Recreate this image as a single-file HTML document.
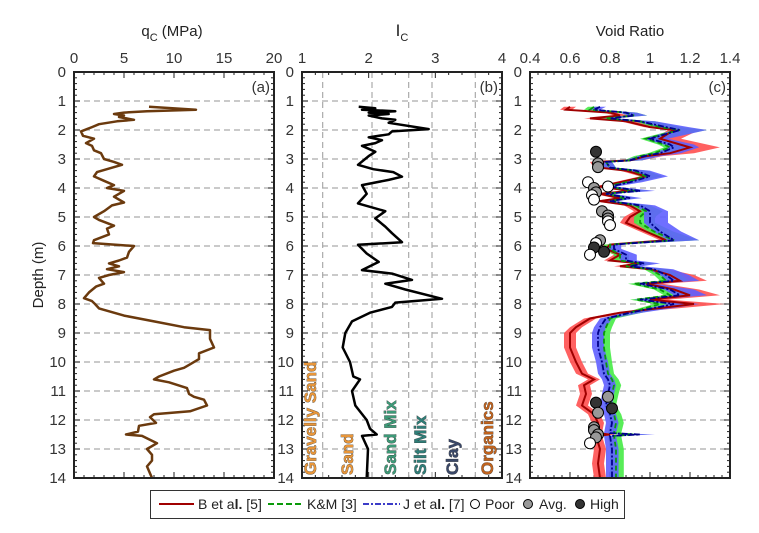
<!DOCTYPE html>
<html><head><meta charset="utf-8"><style>
html,body{margin:0;padding:0;background:#fff;}
svg{display:block;font-family:"Liberation Sans",sans-serif;}
</style></head><body>
<svg id="chart" width="759" height="533" viewBox="0 0 759 533">
<g id="root"></g>
</svg>
<script>
// ---- Data ----
const qcDepth=[1.2,1.3,1.35,1.4,1.45,1.5,1.55,1.65,1.7,1.8,1.9,2.05,2.2,2.3,2.45,2.55,2.7,2.8,3.0,3.1,3.2,3.3,3.45,3.6,3.75,3.9,4.0,4.1,4.3,4.5,4.6,4.8,5.0,5.1,5.3,5.4,5.6,5.8,5.9,6.0,6.2,6.4,6.5,6.6,6.7,6.8,6.9,7.0,7.1,7.3,7.4,7.6,7.8,7.9,8.0,8.15,8.4,8.6,8.8,8.9,9.2,9.5,9.7,9.9,10.1,10.2,10.3,10.5,10.6,10.7,10.9,11.1,11.2,11.3,11.5,11.7,11.8,11.9,12.1,12.2,12.4,12.5,12.55,12.8,13.0,13.2,13.4,13.6,14.0];
const qcValues=[7.5,12.2,7.3,5,4,5,4.5,6,4.3,2.5,1.8,0.7,0.9,2,1.2,1.8,2,2.7,3,4,4.8,3.8,2.3,2,3,4,3.3,5,4,5,3.8,3,2,2.5,4,3.3,3.5,2,1.9,6,5.5,5.3,4.5,3.5,4.5,3.3,5,3.5,2.5,3,2.2,1.5,1,1.8,2.1,2.5,5,8,11,13.6,13.6,14,12.5,12.5,11.5,11,10,8.5,8,9.5,11.3,11.5,12,13,13.3,11.6,8,7.6,8.2,6.5,6.4,5.2,6.8,8.3,7.3,7.8,7.8,7.3,7.8];
const icDepth=[1.2,1.25,1.3,1.35,1.4,1.45,1.5,1.6,1.65,1.75,1.97,2.05,2.15,2.25,2.35,2.45,2.55,2.65,2.75,2.9,3.2,3.35,3.45,3.61,3.72,3.9,4.2,4.53,4.8,5.05,5.33,5.56,5.87,5.96,6.26,6.55,6.83,6.95,7.17,7.3,7.5,7.82,7.95,8.1,8.3,8.6,9.0,9.5,10.0,10.5,10.6,11.0,11.5,12.0,12.3,12.5,12.55,13.0,14.0];
const icValues=[1.85,2.1,1.9,2.4,2.0,2.3,2.0,2.2,2.4,2.3,2.9,2.35,2.3,2.0,2.2,2.1,1.9,2.0,2.1,2.0,1.84,2.07,2.37,2.5,2.3,1.9,1.97,1.84,2.25,2.1,2.25,2.35,2.5,1.84,1.97,2.15,1.9,2.35,2.65,2.25,2.55,3.1,2.4,2.35,2.02,1.75,1.65,1.61,1.72,1.77,1.87,1.75,1.8,1.97,2.02,2.12,1.9,1.99,1.97];
const eDepth=[1.2,1.3,1.4,1.5,1.6,1.7,1.9,2.0,2.3,2.5,2.6,2.8,2.9,3.05,3.1,3.3,3.4,3.6,3.8,3.95,4.1,4.2,4.35,4.45,4.6,4.8,5.0,5.2,5.5,5.8,5.95,6.1,6.3,6.5,6.6,6.7,6.8,7.0,7.2,7.3,7.5,7.7,7.85,8.0,8.1,8.3,8.5,8.8,9.0,9.5,10.0,10.4,10.6,10.8,11.1,11.5,11.8,12.1,12.45,12.5,12.55,13.0,13.5,14.0];
const eB=[0.60,0.58,0.80,0.85,0.70,0.88,1.00,1.12,1.05,1.15,1.20,1.10,0.98,0.90,0.73,0.75,0.88,0.98,0.85,0.75,0.90,0.75,0.85,0.75,0.90,0.95,0.90,0.88,0.98,1.08,0.80,0.78,0.85,0.80,0.95,0.85,1.00,1.10,1.15,0.98,1.12,1.20,1.00,1.22,1.10,0.85,0.70,0.63,0.60,0.60,0.63,0.66,0.72,0.67,0.68,0.66,0.72,0.74,0.73,0.80,0.73,0.75,0.74,0.75];
const eKM=[0.72,0.70,0.88,0.92,0.78,0.95,1.05,1.15,0.98,1.07,1.10,1.02,0.95,0.90,0.78,0.80,0.92,0.98,0.88,0.78,0.93,0.78,0.88,0.80,0.93,0.98,0.95,0.95,1.02,1.12,0.80,0.80,0.85,0.85,0.95,0.88,1.00,1.05,1.08,0.92,1.05,1.10,0.93,1.05,1.00,0.90,0.80,0.78,0.77,0.77,0.78,0.79,0.81,0.82,0.81,0.80,0.82,0.83,0.82,0.92,0.82,0.83,0.83,0.83];
const eJ=[0.75,0.72,0.88,0.92,0.80,0.95,1.08,1.15,1.00,1.10,1.12,1.05,0.97,0.90,0.78,0.80,0.93,1.00,0.90,0.80,0.95,0.78,0.90,0.80,0.95,1.00,1.00,1.00,1.05,1.12,0.82,0.82,0.88,0.88,0.97,0.90,1.02,1.08,1.12,0.95,1.10,1.15,0.95,1.12,1.05,0.90,0.78,0.75,0.74,0.74,0.76,0.77,0.79,0.80,0.79,0.78,0.80,0.81,0.80,0.95,0.80,0.81,0.81,0.81];
const siteDepth=[2.75,3.15,3.28,3.8,3.95,4.0,4.15,4.25,4.4,4.8,4.95,5.05,5.15,5.28,5.8,5.9,6.05,6.2,6.3,11.2,11.4,11.6,11.75,12.25,12.35,12.5,12.6,12.8];
const siteE=[0.73,0.74,0.74,0.69,0.79,0.72,0.73,0.71,0.72,0.76,0.79,0.79,0.79,0.80,0.75,0.73,0.72,0.77,0.70,0.79,0.73,0.81,0.74,0.72,0.72,0.74,0.73,0.70];
const siteClass=['High','Avg','Avg','Poor','Poor','Avg','Avg','Poor','Poor','Avg','Avg','Avg','Poor','Poor','Avg','Poor','High','High','Poor','Avg','High','High','Avg','Avg','Avg','Avg','Avg','Poor'];
const depthTicks=[0,1,2,3,4,5,6,7,8,9,10,11,12,13,14];
const qcTicks=[0,5,10,15,20];
const icTicks=[1,2,3,4];
const eTicks=[0.4,0.6,0.8,1,1.2,1.4];
const icBounds=[1.31,2.05,2.6,2.95,3.6];

// ---- Layout ----
const NS='http://www.w3.org/2000/svg';
const root=document.getElementById('root');
const Y0=72,Y1=478;
const yS=d=>Y0+(Y1-Y0)*d/14;
function mk(tag,attrs,parent){const e=document.createElementNS(NS,tag);for(const k in attrs)e.setAttribute(k,attrs[k]);(parent||root).appendChild(e);return e;}
const panels=[
 {x0:74,x1:274,min:0,max:20,ticks:qcTicks,minor:1,tag:'(a)',name:'qc'},
 {x0:302,x1:502,min:1,max:4,ticks:icTicks,minor:0.2,tag:'(b)',name:'ic'},
 {x0:530,x1:730,min:0.4,max:1.4,ticks:eTicks,minor:0.04,tag:'(c)',name:'void-ratio'}];
panels.forEach(p=>{p.x=v=>p.x0+(v-p.min)/(p.max-p.min)*(p.x1-p.x0);});

function drawFrame(p){
 const g=mk('g',{});
 
 
 depthTicks.forEach(d=>{ if(d>0&&d<14){const l=mk('line',{x1:p.x0,x2:p.x1,y1:yS(d),y2:yS(d),stroke:'#aaa','stroke-width':1.2,'stroke-dasharray':'6,4'},g);
  }});
 for(let d=0;d<=14.001;d+=0.2){const len=Math.abs(d-Math.round(d))<0.01?6:3;
  mk('line',{x1:p.x0,x2:p.x0+len,y1:yS(d),y2:yS(d),stroke:'#222','stroke-width':1},g);
  mk('line',{x1:p.x1,x2:p.x1-len,y1:yS(d),y2:yS(d),stroke:'#222','stroke-width':1},g);}
 for(let v=p.min;v<=p.max+1e-6;v+=p.minor){
  const isMaj=p.ticks.some(t=>Math.abs(t-v)<1e-6);const len=isMaj?6:3;
  mk('line',{x1:p.x(v),x2:p.x(v),y1:Y0,y2:Y0+len,stroke:'#222','stroke-width':1},g);
  mk('line',{x1:p.x(v),x2:p.x(v),y1:Y1,y2:Y1-len,stroke:'#222','stroke-width':1},g);}
 p.ticks.forEach(t=>{const tx=mk('text',{x:p.x(t),y:63,'font-size':15,'text-anchor':'middle',fill:'#333'},g);tx.textContent=String(t);
  });
 depthTicks.forEach(d=>{const tx=mk('text',{x:p.x0-8,y:yS(d)+5,'font-size':15,'text-anchor':'end',fill:'#333'},g);tx.textContent=String(d);
  });
 const tg=mk('text',{x:p.x1-4,y:yS(0)+20,'font-size':15,'text-anchor':'end',fill:'#333'},g);tg.textContent=p.tag;
 
 return g;
}
function border(p){const r=mk('rect',{x:p.x0,y:Y0,width:p.x1-p.x0,height:Y1-Y0,fill:'none',stroke:'#222','stroke-width':2});
 }
function linePath(p,vals,deps){return vals.map((v,i)=>(i?'L':'M')+p.x(v).toFixed(1)+','+yS(deps[i]).toFixed(1)).join('');}

// Panel a
const pa=panels[0];drawFrame(pa);
const qcl=mk('path',{d:linePath(pa,qcValues,qcDepth),fill:'none',stroke:'#6b3a0e','stroke-width':2.5,'stroke-linejoin':'round'});

border(pa);

// Panel b
const pb=panels[1];drawFrame(pb);
icBounds.forEach(b=>{const l=mk('line',{x1:pb.x(b),x2:pb.x(b),y1:Y0,y2:Y1,stroke:'#aaa','stroke-width':1.2,'stroke-dasharray':'6,4'});
 });
const icl=mk('path',{d:linePath(pb,icValues,icDepth),fill:'none',stroke:'#000','stroke-width':2.5,'stroke-linejoin':'round'});

const zones=[['Gravelly Sand',310,'#e8963a','gravelly-sand-label'],['Sand',347,'#e8963a','sand-label'],['Sand Mix',390,'#3d9a78','sand-mix-label'],['Silt Mix',420,'#2f7e78','silt-mix-label'],['Clay',452,'#3a4868','clay-label'],['Organics',487,'#c0631e','organics-label']];
zones.forEach(z=>{const t=mk('text',{x:0,y:0,transform:`translate(${z[1]+6},475) rotate(-90)`,'font-size':17,'font-weight':'bold',fill:z[2],stroke:'#333','stroke-width':0.6,'paint-order':'stroke'});
 t.textContent=z[0];});
border(pb);

// Panel c
const pc=panels[2];drawFrame(pc);
function band(vals,color,name){
 const lo=v=>0.03, hi=v=>0.03+Math.max(0,v-0.8)*0.3;
 let d=vals.map((v,i)=>(i?'L':'M')+pc.x(v-lo(v)).toFixed(1)+','+yS(eDepth[i]).toFixed(1)).join('');
 for(let i=vals.length-1;i>=0;i--)d+='L'+pc.x(vals[i]+hi(vals[i])).toFixed(1)+','+yS(eDepth[i]).toFixed(1);
 const b=mk('path',{d:d+'Z',fill:color,stroke:'none'});
 
}
band(eB,'rgba(255,80,80,0.9)','b-et-al-band');
band(eKM,'rgba(70,235,70,0.9)','km-band');
band(eJ,'rgba(95,95,255,0.9)','j-et-al-band');
const lB=mk('path',{d:linePath(pc,eB,eDepth),fill:'none',stroke:'#a00000','stroke-width':2});

const lK=mk('path',{d:linePath(pc,eKM,eDepth),fill:'none',stroke:'#0a9a0a','stroke-width':1.8,'stroke-dasharray':'5,3'});

const lJ=mk('path',{d:linePath(pc,eJ,eDepth),fill:'none',stroke:'#00008b','stroke-width':1.8,'stroke-dasharray':'6,2,2,2'});

const fills={Poor:'#fff',Avg:'#999',High:'#333'};
siteE.forEach((e,i)=>{const c=mk('circle',{cx:pc.x(e),cy:yS(siteDepth[i]),r:5.5,fill:fills[siteClass[i]],stroke:'#000','stroke-width':1});
 });
border(pc);

// Titles
function txt(s,x,y,size,name,extra){const t=mk('text',Object.assign({x:x,y:y,'font-size':size,'text-anchor':'middle',fill:'#222'},extra||{}));t.innerHTML=s;
 return t;}
txt('q<tspan font-size="11" dy="5">C</tspan><tspan dy="-5"> (MPa)</tspan>',172,36,15,'qc-axis-title');
txt('I<tspan font-size="11" dy="5">C</tspan>',402,36,17,'ic-axis-title');
txt('Void Ratio',630,36,15,'void-ratio-axis-title');
const yl=mk('text',{x:0,y:0,transform:'translate(43,275) rotate(-90)','font-size':15,'text-anchor':'middle',fill:'#222'});
yl.textContent='Depth (m)';

// Legend
const lg=mk('g',{});
mk('rect',{x:150.5,y:490.5,width:474,height:28,fill:'#fff',stroke:'#333','stroke-width':1},lg);
mk('line',{x1:159,x2:194,y1:504,y2:504,stroke:'#a00000','stroke-width':2},lg);
let t=mk('text',{x:198,y:509,'font-size':14,fill:'#222'},lg);t.innerHTML='B et a<tspan font-weight="bold">l.</tspan> [5]';

mk('line',{x1:268,x2:302,y1:504,y2:504,stroke:'#0a9a0a','stroke-width':2,'stroke-dasharray':'6,3'},lg);
t=mk('text',{x:307,y:509,'font-size':14,fill:'#222'},lg);t.textContent='K&M [3]';

mk('line',{x1:363,x2:400,y1:504,y2:504,stroke:'#2020c0','stroke-width':1.8,'stroke-dasharray':'6,2,2,2'},lg);
t=mk('text',{x:403,y:509,'font-size':14,fill:'#222'},lg);t.innerHTML='J et a<tspan font-weight="bold">l.</tspan> [7]';

mk('circle',{cx:475,cy:504,r:4.5,fill:'#fff',stroke:'#000'},lg);
t=mk('text',{x:485,y:509,'font-size':14,fill:'#222'},lg);t.textContent='Poor';

mk('circle',{cx:528,cy:504,r:4.5,fill:'#999',stroke:'#000'},lg);
t=mk('text',{x:539,y:509,'font-size':14,fill:'#222'},lg);t.textContent='Avg.';

mk('circle',{cx:580,cy:504,r:4.5,fill:'#333',stroke:'#000'},lg);
t=mk('text',{x:590,y:509,'font-size':14,fill:'#222'},lg);t.textContent='High';

</script>
</body></html>
